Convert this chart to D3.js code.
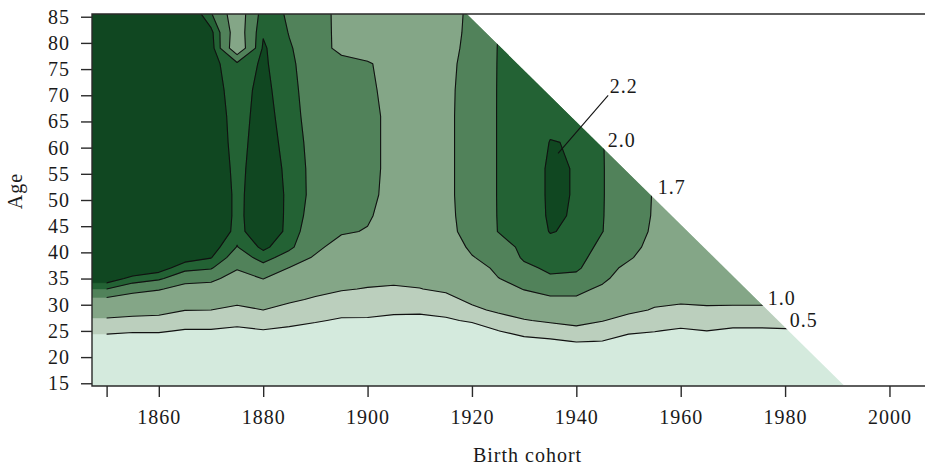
<!DOCTYPE html>
<html>
<head>
<meta charset="utf-8">
<script src="https://cdn.jsdelivr.net/npm/d3@7"></script>
<style>
  html, body { margin: 0; padding: 0; background: #fff; }
  svg { display: block; }
  text { font-family: "Liberation Serif", "Times New Roman", serif; fill: #1a1a1a; }
</style>
</head>
<body>
<svg id="chart" width="925" height="467"></svg>
<script>
// Birth cohorts (columns) and ages (rows) of the surface
const cohorts = [1850, 1855, 1860, 1865, 1870, 1875, 1880, 1885, 1890, 1895,
                 1900, 1905, 1910, 1915, 1920, 1925, 1930, 1935, 1940, 1945,
                 1950, 1955, 1960, 1965, 1970, 1975, 1980, 1985, 1990];
const ages = [15, 20, 23, 25, 27, 29, 31, 33, 35, 37, 39, 41, 44, 47, 51, 56, 61, 66, 71, 76, 79, 82, 86];

// Mean number of children per woman, one array per cohort, one value per age above
const children = [
  [0, 0.05, 0.27, 0.60, 0.92, 1.27, 1.63, 2.00, 2.34, 2.50, 2.58, 2.60, 2.60, 2.60, 2.60, 2.60, 2.60, 2.60, 2.60, 2.60, 2.60, 2.60, 2.60],
  [0, 0.05, 0.23, 0.55, 0.87, 1.19, 1.51, 1.83, 2.13, 2.42, 2.52, 2.60, 2.60, 2.60, 2.60, 2.60, 2.60, 2.60, 2.60, 2.60, 2.60, 2.60, 2.60],
  [0, 0.05, 0.24, 0.55, 0.85, 1.15, 1.44, 1.73, 2.04, 2.31, 2.45, 2.55, 2.60, 2.60, 2.60, 2.60, 2.60, 2.60, 2.60, 2.60, 2.60, 2.60, 2.60],
  [0, 0.04, 0.18, 0.46, 0.74, 1.01, 1.29, 1.57, 1.83, 2.07, 2.30, 2.42, 2.55, 2.60, 2.60, 2.60, 2.60, 2.60, 2.60, 2.60, 2.60, 2.60, 2.45],
  [0, 0.04, 0.19, 0.46, 0.73, 1.00, 1.27, 1.54, 1.79, 2.02, 2.21, 2.31, 2.60, 2.60, 2.60, 2.48, 2.39, 2.35, 2.30, 2.28, 2.30, 2.26, 2.00],
  [0, 0.03, 0.15, 0.40, 0.65, 0.90, 1.12, 1.33, 1.54, 1.73, 1.86, 1.99, 2.07, 2.10, 2.10, 2.10, 2.10, 2.10, 2.10, 2.05, 1.45, 1.50, 1.50],
  [0, 0.04, 0.21, 0.47, 0.74, 1.00, 1.24, 1.47, 1.71, 1.91, 2.09, 2.25, 2.50, 2.48, 2.46, 2.40, 2.34, 2.30, 2.27, 2.24, 2.23, 2.18, 2.10],
  [0, 0.03, 0.19, 0.41, 0.63, 0.86, 1.07, 1.28, 1.48, 1.69, 1.89, 2.05, 2.10, 2.12, 2.13, 2.12, 2.10, 2.08, 2.06, 2.04, 2.02, 1.99, 1.97],
  [0, 0.02, 0.13, 0.34, 0.54, 0.745, 0.95, 1.13, 1.31, 1.48, 1.66, 1.78, 1.86, 1.90, 1.93, 1.93, 1.92, 1.90, 1.89, 1.88, 1.87, 1.86, 1.85],
  [0, 0.01, 0.05, 0.25, 0.45, 0.65, 0.85, 1.03, 1.16, 1.29, 1.42, 1.55, 1.74, 1.80, 1.84, 1.85, 1.85, 1.85, 1.84, 1.82, 1.60, 1.60, 1.60],
  [0, 0.02, 0.09, 0.27, 0.45, 0.625, 0.80, 0.98, 1.11, 1.23, 1.35, 1.47, 1.68, 1.74, 1.76, 1.76, 1.76, 1.76, 1.74, 1.72, 1.60, 1.60, 1.60],
  [0, 0.01, 0.04, 0.22, 0.40, 0.58, 0.76, 0.945, 1.10, 1.18, 1.26, 1.34, 1.45, 1.55, 1.62, 1.64, 1.64, 1.64, 1.63, 1.62, 1.58, 1.56, 1.55],
  [0, 0.00, 0.02, 0.17, 0.38, 0.58, 0.79, 0.99, 1.09, 1.19, 1.27, 1.34, 1.42, 1.48, 1.52, 1.54, 1.55, 1.55, 1.55, 1.55, 1.55, 1.55, 1.55],
  [0, 0.00, 0.03, 0.22, 0.435, 0.65, 0.87, 1.07, 1.18, 1.29, 1.39, 1.50, 1.62, 1.64, 1.65, 1.65, 1.65, 1.65, 1.65, 1.64, 1.63, 1.62, 1.62],
  [0, 0.00, 0.04, 0.265, 0.56, 0.90, 1.10, 1.24, 1.39, 1.54, 1.68, 1.76, 1.80, 1.80, 1.80, 1.80, 1.80, 1.80, 1.79, 1.78, 1.76, 1.75, 1.74],
  [0, 0.02, 0.19, 0.49, 0.81, 1.08, 1.28, 1.49, 1.69, 1.77, 1.83, 1.90, 2.005, 2.01, 2.012, 2.012, 2.012, 2.012, 2.012, 2.01, 2.008, 2.00, 1.99],
  [0, 0.03, 0.36, 0.67, 0.97, 1.23, 1.48, 1.72, 1.835, 1.95, 2.03, 2.05, 2.07, 2.08, 2.08, 2.08, 2.08, 2.08, 2.08, 2.07, 2.06, 2.05, 2.05],
  [0, 0.04, 0.42, 0.75, 1.07, 1.36, 1.64, 1.82, 1.97, 2.04, 2.09, 2.14, 2.209, 2.225, 2.23, 2.23, 2.206, 2.15, 2.12, 2.10, 2.10, 2.10, 2.10],
  [0, 0.02, 0.52, 0.86, 1.15, 1.40, 1.65, 1.80, 1.93, 2.04, 2.09, 2.13, 2.17, 2.185, 2.19, 2.19, 2.19, 2.18, 2.17, 2.16, 2.15, 2.15, 2.15],
  [0, 0.105, 0.49, 0.76, 1.02, 1.22, 1.43, 1.63, 1.78, 1.83, 1.88, 1.935, 2.005, 2.01, 2.012, 2.012, 2.01, 2.00, 1.98, 1.96, 1.95, 1.95, 1.95],
  [0, 0.03, 0.32, 0.58, 0.84, 1.10, 1.23, 1.36, 1.49, 1.62, 1.74, 1.78, 1.82, 1.84, 1.85, 1.85, 1.84, 1.83, 1.83, 1.83, 1.83, 1.83, 1.83],
  [0, 0.02, 0.29, 0.517, 0.74, 0.966, 1.10, 1.22, 1.34, 1.44, 1.53, 1.62, 1.66, 1.675, 1.68, 1.68, 1.67, 1.67, 1.67, 1.67, 1.67, 1.67, 1.67],
  [0, 0.02, 0.21, 0.44, 0.67, 0.91, 1.07, 1.18, 1.29, 1.38, 1.45, 1.50, 1.54, 1.55, 1.55, 1.55, 1.55, 1.55, 1.55, 1.55, 1.55, 1.55, 1.55],
  [0, 0.03, 0.28, 0.50, 0.72, 0.93, 1.10, 1.19, 1.29, 1.37, 1.43, 1.47, 1.50, 1.50, 1.50, 1.50, 1.50, 1.50, 1.50, 1.50, 1.50, 1.50, 1.50],
  [0, 0.02, 0.19, 0.43, 0.67, 0.90, 1.12, 1.19, 1.27, 1.33, 1.38, 1.42, 1.45, 1.45, 1.45, 1.45, 1.45, 1.45, 1.45, 1.45, 1.45, 1.45, 1.45],
  [0, 0.02, 0.20, 0.43, 0.66, 0.90, 1.12, 1.20, 1.28, 1.34, 1.38, 1.41, 1.43, 1.43, 1.43, 1.43, 1.43, 1.43, 1.43, 1.43, 1.43, 1.43, 1.43],
  [0, 0.02, 0.21, 0.45, 0.68, 0.91, 1.10, 1.19, 1.27, 1.33, 1.37, 1.40, 1.42, 1.42, 1.42, 1.42, 1.42, 1.42, 1.42, 1.42, 1.42, 1.42, 1.42],
  [0, 0.03, 0.22, 0.46, 0.69, 0.91, 1.09, 1.18, 1.26, 1.32, 1.36, 1.39, 1.41, 1.41, 1.41, 1.41, 1.41, 1.41, 1.41, 1.41, 1.41, 1.41, 1.41],
  [0, 0.03, 0.22, 0.46, 0.69, 0.91, 1.09, 1.18, 1.26, 1.32, 1.36, 1.39, 1.41, 1.41, 1.41, 1.41, 1.41, 1.41, 1.41, 1.41, 1.41, 1.41, 1.41]
];

// Contour levels and band fills (below first level ... above last level)
const levels = [0.5, 1.0, 1.7, 2.0, 2.2];
const levelText = ["0.5", "1.0", "1.7", "2.0", "2.2"];
const bandColors = ["#d4eadd", "#bbcfbd", "#84a687", "#51825a", "#236234", "#104721"];

// Edge of the observed triangle: last cohort observed at the oldest and youngest age
const edgeAges = [85.52, 14.48];
const edgeCohorts = [1919.0, 1991.4];

// Contour label anchors (cohort, age) and the leader for the 2.2 label
const labelCohort = [1980.9, 1976.7, 1955.6, 1946.0, 1946.4];
const labelAge    = [25.75, 30.0, 51.2, 60.1, 70.4];
const leaderCohort = [1936.5, 1946.1];
const leaderAge    = [58.9, 70.0];

// Axis ticks
const xTicks = [1850, 1860, 1880, 1900, 1920, 1940, 1960, 1980, 2000];
const xTickLabels = ["", "1860", "1880", "1900", "1920", "1940", "1960", "1980", "2000"];
const yTicks = [15, 20, 25, 30, 35, 40, 45, 50, 55, 60, 65, 70, 75, 80, 85];

const svg = d3.select("#chart");
const plot = { left: 92, top: 14, bottom: 386, right: 926 };

const x = d3.scaleLinear().domain([1847.2, 2007]).range([plot.left, plot.right]);
const y = d3.scaleLinear().domain([14.48, 85.52]).range([plot.bottom, plot.top]);

// Grid in row-major order (cohort varies fastest). The first cohort is
// repeated once on the left so the contour frame falls outside the plot.
const nx = cohorts.length, ny = ages.length, gx = nx + 1;
const grid = new Array(gx * ny);
for (let j = 0; j < ny; j++) {
  grid[j * gx] = children[0][j];
  for (let i = 0; i < nx; i++) grid[j * gx + i + 1] = children[i][j];
}

// Contour grid coordinates -> cohort / age (cell centres sit at index + 0.5)
const colToYear = d3.scaleLinear()
  .domain([1.5, nx + 0.5])
  .range([cohorts[0], cohorts[nx - 1]]);
const rowToAge = d3.scaleLinear()
  .domain([0].concat(ages.map((_, j) => j + 0.5), [ny]))
  .range([y.domain()[0]].concat(ages, [ages[ny - 1] + 1]));

const toScreen = d3.geoTransform({
  point(px, py) { this.stream.point(x(colToYear(px)), y(rowToAge(py))); }
});
const path = d3.geoPath(toScreen);

const bandThresholds = [d3.min(grid)].concat(levels);
const bands = d3.contours().size([gx, ny]).thresholds(bandThresholds)(grid);

// Clip to the observed triangle of the Lexis surface
const left = x.domain()[0];
const slope = (edgeCohorts[1] - edgeCohorts[0]) / (edgeAges[0] - edgeAges[1]);
const observed = [
  [left - 10, edgeAges[0] + 2],
  [edgeCohorts[0] - 2 * slope, edgeAges[0] + 2],
  [edgeCohorts[1], edgeAges[1]],
  [left - 10, edgeAges[1]]
];
const defs = svg.append("defs");
defs.append("clipPath").attr("id", "obs")
  .append("path")
  .attr("d", d3.line().x(d => x(d[0])).y(d => y(d[1]))(observed) + "Z");
defs.append("clipPath").attr("id", "box")
  .append("rect")
  .attr("x", plot.left).attr("y", plot.top)
  .attr("width", plot.right - plot.left + 40).attr("height", plot.bottom - plot.top);
// Isolines are drawn only over the cohorts that were measured
defs.append("clipPath").attr("id", "measured")
  .append("rect")
  .attr("x", x(cohorts[0])).attr("y", plot.top)
  .attr("width", plot.right - x(cohorts[0]) + 40).attr("height", plot.bottom - plot.top);

const surface = svg.append("g").attr("clip-path", "url(#box)")
  .append("g").attr("clip-path", "url(#obs)");

surface.selectAll("path.band")
  .data(bands)
  .join("path")
  .attr("class", "band")
  .attr("d", path)
  .attr("fill", (d, i) => bandColors[i])
  .attr("fill-rule", "evenodd")
  .attr("stroke", (d, i) => bandColors[i])
  .attr("stroke-width", 0.4);

surface.append("g").attr("clip-path", "url(#measured)")
  .selectAll("path.iso")
  .data(bands.slice(1))
  .join("path")
  .attr("class", "iso")
  .attr("d", path)
  .attr("fill", "none")
  .attr("stroke", "#111")
  .attr("stroke-width", 1.1)
  .attr("stroke-linejoin", "round");

// Leader line for the innermost contour
svg.append("line")
  .attr("x1", x(leaderCohort[0])).attr("y1", y(leaderAge[0]))
  .attr("x2", x(leaderCohort[1])).attr("y2", y(leaderAge[1]))
  .attr("stroke", "#111").attr("stroke-width", 1.1);

// Contour labels
svg.append("g").selectAll("text")
  .data(levelText)
  .join("text")
  .attr("x", (d, i) => x(labelCohort[i]))
  .attr("y", (d, i) => y(labelAge[i]))
  .attr("font-size", 20)
  .attr("letter-spacing", "1px")
  .text(d => d);

// Plot frame (open on the right, beyond the window)
svg.append("path")
  .attr("d", `M${plot.right + 60},${plot.top}H${plot.left}V${plot.bottom}H${plot.right + 60}`)
  .attr("fill", "none")
  .attr("stroke", "#2a2a2a")
  .attr("stroke-width", 1.4);

// Axes
const yAxis = d3.axisLeft(y).tickValues(yTicks).tickSize(11).tickPadding(11);
const gy = svg.append("g").attr("transform", `translate(${plot.left},0)`).call(yAxis);
gy.select(".domain").remove();
gy.selectAll(".tick line").attr("stroke", "#2a2a2a").attr("stroke-width", 1.4);
gy.selectAll(".tick text").attr("font-size", 20).attr("letter-spacing", "1px")
  .attr("font-family", "Liberation Serif, serif").attr("fill", "#1a1a1a");

const xAxis = d3.axisBottom(x).tickValues(xTicks).tickSize(11).tickPadding(13)
  .tickFormat((d, i) => xTickLabels[i]);
const gxAxis = svg.append("g").attr("transform", `translate(0,${plot.bottom})`).call(xAxis);
gxAxis.select(".domain").remove();
gxAxis.selectAll(".tick line").attr("stroke", "#2a2a2a").attr("stroke-width", 1.4);
gxAxis.selectAll(".tick text").attr("font-size", 20).attr("letter-spacing", "1px")
  .attr("font-family", "Liberation Serif, serif").attr("fill", "#1a1a1a");

// Axis titles
svg.append("text")
  .attr("x", 527.5).attr("y", 462)
  .attr("text-anchor", "middle")
  .attr("font-size", 20)
  .attr("letter-spacing", "1px")
  .text("Birth cohort");

svg.append("text")
  .attr("transform", "translate(22,191) rotate(-90)")
  .attr("text-anchor", "middle")
  .attr("font-size", 20)
  .attr("letter-spacing", "1px")
  .text("Age");
</script>
</body>
</html>
